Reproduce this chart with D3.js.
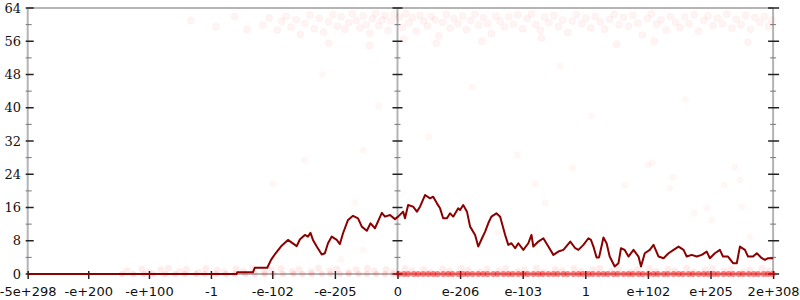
<!DOCTYPE html>
<html>
<head>
<meta charset="utf-8">
<script src="https://cdn.jsdelivr.net/npm/d3@7"></script>
<style>
  body { margin: 0; background: #fff; }
  svg { display: block; }
</style>
</head>
<body>
<div id="chart"></div>
<script>
// x positions are in "tick units" of the bit-pattern axis, 0 = the value 0
var xTickValues = [-5.907, -4.94, -3.97, -2.98, -2.0, -1.0, 0, 1, 2, 3, 4, 5, 6];
var xTickLabels = ["-5e+298", "-e+200", "-e+100", "-1", "-e-102", "-e-205", "0", "e-206", "e-103", "1", "e+102", "e+205", "2e+308"];
var yMajorTicks = [0, 8, 16, 24, 32, 40, 48, 56, 64];
var yMinorTicks = [4, 12, 20, 28, 36, 44, 52, 60];

// running line (dark red)
var lineData = [
  [-5.907, 0], [-2.57, 0], [-2.56, 0.4], [-2.31, 0.4], [-2.28, 1.5], [-2.08, 1.5],
  [-2.02, 3.4], [-1.96, 4.7], [-1.85, 6.8], [-1.75, 8.2], [-1.61, 6.7], [-1.56, 8.3],
  [-1.48, 9.4], [-1.43, 9.0], [-1.39, 9.9], [-1.35, 8.2], [-1.29, 6.6], [-1.21, 4.7],
  [-1.16, 5.0], [-1.11, 7.4], [-1.05, 9.0], [-0.97, 8.2], [-0.92, 7.2], [-0.87, 9.8],
  [-0.79, 13.0], [-0.71, 14.0], [-0.63, 13.4], [-0.57, 11.4], [-0.49, 10.4], [-0.43, 12.2],
  [-0.36, 11.0], [-0.25, 14.7], [-0.2, 13.8], [-0.12, 14.2], [-0.04, 13.2], [0.01, 13.8],
  [0.09, 15.0], [0.12, 13.4], [0.17, 16.6], [0.25, 16.2], [0.31, 15.0], [0.36, 16.2],
  [0.44, 19.0], [0.52, 18.2], [0.57, 18.6], [0.63, 17.0], [0.68, 15.8], [0.73, 13.4],
  [0.79, 13.4], [0.84, 14.6], [0.89, 13.8], [0.97, 15.8], [1.0, 15.4], [1.05, 16.6],
  [1.11, 15.0], [1.16, 11.4], [1.24, 9.4], [1.29, 6.6], [1.35, 8.6], [1.4, 10.2],
  [1.45, 12.2], [1.5, 13.8], [1.58, 14.6], [1.64, 13.8], [1.72, 9.4], [1.77, 7.0],
  [1.82, 7.4], [1.88, 6.2], [1.93, 7.4], [2.01, 5.8], [2.09, 7.4], [2.14, 9.4],
  [2.17, 6.6], [2.25, 7.8], [2.33, 8.6], [2.41, 6.6], [2.49, 4.6], [2.57, 5.4],
  [2.65, 5.8], [2.76, 7.8], [2.84, 6.2], [2.89, 5.8], [2.97, 7.0], [3.05, 8.6],
  [3.09, 8.2], [3.13, 6.6], [3.18, 4.0], [3.22, 4.0], [3.29, 8.8], [3.34, 7.4],
  [3.39, 4.2], [3.47, 1.8], [3.53, 2.6], [3.57, 6.2], [3.63, 5.8], [3.69, 4.2],
  [3.77, 5.8], [3.85, 4.2], [3.89, 1.8], [3.95, 5.0], [4.03, 5.8], [4.09, 7.0],
  [4.17, 4.2], [4.25, 3.8], [4.33, 5.0], [4.41, 5.8], [4.49, 6.6], [4.57, 5.8],
  [4.62, 4.2], [4.7, 4.6], [4.78, 4.2], [4.86, 4.6], [4.94, 5.4], [4.99, 3.8],
  [5.07, 5.0], [5.15, 5.8], [5.2, 4.2], [5.28, 4.2], [5.36, 2.6], [5.42, 2.6],
  [5.47, 6.6], [5.55, 5.8], [5.6, 4.2], [5.68, 4.2], [5.74, 5.0], [5.82, 3.8],
  [5.87, 3.4], [5.92, 3.8], [6.0, 3.8]
];

// faint samples near the top of the range
var topPoints = [
  [-3.3, 61.0], [-2.9, 59.5], [-2.6, 62.0], [-2.4, 58.8],
  [-2.15, 59.9], [-2.05, 61.6], [-1.92, 58.7], [-1.85, 60.8], [-1.78, 62.0], [-1.7, 59.4],
  [-1.62, 61.2], [-1.55, 57.6], [-1.48, 60.3], [-1.4, 62.3], [-1.33, 59.0], [-1.25, 61.5],
  [-1.18, 58.2], [-1.1, 60.7], [-1.03, 62.4], [-0.96, 59.6], [-0.9, 61.9], [-0.84, 58.9],
  [-0.78, 60.5], [-0.72, 62.6], [-0.66, 61.0], [-0.6, 59.2], [-0.55, 62.1], [-0.5, 60.0],
  [-0.44, 57.9], [-0.4, 61.4], [-0.35, 62.7], [-0.3, 59.7], [-0.25, 61.1], [-0.2, 62.2],
  [-0.15, 58.6], [-0.1, 60.9], [-0.05, 62.5], [0.03, 61.8], [0.08, 59.3], [0.13, 62.6],
  [0.18, 60.4], [0.24, 61.7], [0.3, 58.4], [0.36, 62.2], [0.42, 60.9], [0.48, 59.6],
  [0.54, 62.0], [0.6, 61.2], [0.66, 57.3], [0.72, 60.6], [0.78, 62.4], [0.84, 59.1],
  [0.9, 61.5], [0.97, 60.2], [1.04, 62.1], [1.1, 58.8], [1.17, 61.0], [1.24, 62.5],
  [1.3, 59.9], [1.37, 61.7], [1.44, 60.3], [1.5, 57.8], [1.57, 62.0], [1.64, 60.8],
  [1.71, 59.4], [1.78, 61.9], [1.85, 60.1], [1.92, 62.3], [2.0, 59.0], [2.07, 61.4],
  [2.14, 62.6], [2.21, 60.0], [2.28, 58.6], [2.35, 61.8], [2.42, 60.5], [2.5, 62.2],
  [2.57, 59.5], [2.64, 61.1], [2.72, 58.1], [2.79, 60.9], [2.86, 62.4], [2.94, 60.2],
  [3.01, 61.6], [3.09, 59.2], [3.16, 62.0], [3.24, 60.7], [3.31, 58.9], [3.39, 61.3],
  [3.46, 62.5], [3.54, 60.0], [3.61, 61.8], [3.69, 59.6], [3.76, 62.2], [3.84, 60.4],
  [3.91, 57.5], [3.99, 61.5], [4.06, 62.7], [4.14, 60.1], [4.21, 61.2], [4.29, 58.7],
  [4.36, 62.0], [4.44, 60.6], [4.51, 59.3], [4.59, 61.9], [4.66, 60.3], [4.74, 62.4],
  [4.81, 58.4], [4.89, 61.0], [4.96, 62.1], [5.04, 59.8], [5.11, 61.6], [5.19, 60.2],
  [5.26, 62.5], [5.34, 59.1], [5.41, 61.3], [5.49, 60.0], [5.56, 62.2], [5.64, 58.9],
  [5.71, 61.7], [5.79, 60.5], [5.86, 62.0], [5.93, 59.6], [5.98, 61.1],
  [-1.1, 55.5], [-0.45, 55.0], [0.1, 56.5], [0.62, 55.5], [1.35, 56.0], [2.3, 56.8],
  [3.5, 55.3], [4.1, 56.0], [5.6, 55.8]
];

// scattered samples in the middle of the range
var midPoints = [
  [-0.55, 29.8], [-1.48, 27.4], [-1.99, 21.7], [-0.68, 17.1], [-0.55, 5.8], [1.91, 28.6],
  [2.8, 25.5], [2.2, 21.7], [2.36, 17.1], [3.63, 21.4], [4.0, 26.2], [4.07, 26.7],
  [4.4, 23.3], [4.35, 20.7], [5.39, 25.7], [5.47, 22.6], [5.22, 21.4], [5.5, 16.1],
  [4.74, 14.7], [4.94, 15.9], [5.02, 13.0], [5.63, 8.9], [-0.3, 40.5], [1.2, 45.0],
  [3.1, 38.0], [-1.2, 48.0], [2.6, 50.0], [4.6, 42.0], [0.5, 33.0], [1.6, 10.0], [-0.9, 3.5]
];

// samples just above zero
var lowPoints = [
  [-4.32, 0.8], [-4.08, 1.2], [-3.97, 0.5], [-3.78, 1.0], [-3.66, 1.4], [-3.48, 0.6],
  [-3.37, 1.1], [-3.18, 0.4], [-3.06, 1.3], [-2.88, 0.9], [-2.77, 0.5], [-2.58, 1.2],
  [-2.46, 0.7], [-2.31, 1.4], [-2.13, 0.4], [-2.02, 1.0], [-1.86, 1.3], [-1.68, 0.6],
  [-1.57, 1.1], [-1.38, 0.5], [-1.26, 1.4], [-1.08, 0.8], [-0.97, 1.2], [-0.78, 0.4],
  [-0.66, 1.0], [-0.48, 1.3], [-0.37, 0.7], [-0.18, 1.1], [-0.06, 0.5], [0.12, 1.3],
  [0.23, 0.8], [0.42, 1.1], [0.53, 0.4], [0.72, 1.2], [0.83, 0.7], [1.02, 1.4],
  [1.13, 0.9], [1.32, 0.5], [1.43, 1.2], [1.62, 0.8], [1.73, 1.3], [1.92, 0.6],
  [2.03, 1.0], [2.22, 1.4], [2.33, 0.5], [2.52, 1.1], [2.63, 0.8], [2.82, 1.3],
  [2.93, 0.6], [3.12, 1.0], [3.23, 1.4], [3.42, 0.7], [3.53, 1.2], [3.72, 0.5],
  [3.83, 1.0], [4.02, 1.3], [4.13, 0.6], [4.32, 1.1], [4.43, 0.8], [4.62, 1.4],
  [4.73, 0.5], [4.92, 1.0], [5.03, 1.3], [5.22, 0.7], [5.33, 1.2], [5.52, 0.5],
  [5.63, 1.0], [5.82, 1.3], [5.93, 0.8]
];

// samples at exactly zero (x only)
var zeroX = [
  -4.4, -4.22, -4.05, -3.9, -3.71, -3.55, -3.4, -3.22, -3.08, -2.9, -2.74, -2.6, -2.43,
  -2.28, -2.12, -1.98, -1.83, -1.66, -1.52, -1.37, -1.21, -1.07, -0.92, -0.78, -0.62,
  -0.49, -0.34, -0.2, -0.07,
  0.02, 0.1, 0.17, 0.26, 0.33, 0.41, 0.49, 0.57, 0.64, 0.73, 0.81, 0.88, 0.97, 1.05,
  1.12, 1.2, 1.29, 1.37, 1.44, 1.53, 1.6, 1.69, 1.77, 1.84, 1.93, 2.01, 2.08, 2.17,
  2.25, 2.32, 2.41, 2.49, 2.56, 2.65, 2.72, 2.81, 2.89, 2.96, 3.05, 3.12, 3.21, 3.29,
  3.36, 3.45, 3.52, 3.61, 3.69, 3.76, 3.85, 3.92, 4.01, 4.09, 4.16, 4.25, 4.32, 4.41,
  4.49, 4.56, 4.65, 4.72, 4.81, 4.89, 4.96, 5.05, 5.12, 5.21, 5.29, 5.36, 5.45, 5.52,
  5.61, 5.69, 5.76, 5.85, 5.92, 5.99
];

var width = 800;
var height = 300;

var svg = d3.select("#chart")
  .append("svg")
  .attr("width", width)
  .attr("height", height);

var x = d3.scaleLinear().domain([-5.907, 6.0]).range([27.7, 773.1]);
var y = d3.scaleLinear().domain([0, 64]).range([274, 8]);

var axisColor = "#b4b4b4";

// top border
svg.append("line")
  .attr("x1", x(-5.907)).attr("x2", x(6.0))
  .attr("y1", y(64)).attr("y2", y(64))
  .attr("stroke", axisColor).attr("stroke-width", 2);

// bottom baseline
svg.append("line")
  .attr("x1", x(-5.907)).attr("x2", x(6.0))
  .attr("y1", y(0)).attr("y2", y(0))
  .attr("stroke", axisColor).attr("stroke-width", 2);

// vertical axes: left, middle (at 0), right
var vAxes = [
  { pos: -5.907, majL: -2, majR: 6, minL: -2, minR: 4 },
  { pos: 0, majL: -5, majR: 5, minL: -3, minR: 3 },
  { pos: 6.0, majL: -5, majR: 6, minL: -3, minR: 3 }
];

vAxes.forEach(function (a) {
  var g = svg.append("g");
  var cx = x(a.pos);
  g.append("line")
    .attr("x1", cx).attr("x2", cx)
    .attr("y1", y(0)).attr("y2", y(64))
    .attr("stroke", axisColor).attr("stroke-width", 2);
  g.selectAll(".minor")
    .data(yMinorTicks)
    .enter()
    .append("line")
    .attr("x1", cx + a.minL).attr("x2", cx + a.minR)
    .attr("y1", function (d) { return y(d); })
    .attr("y2", function (d) { return y(d); })
    .attr("stroke", "#777").attr("stroke-width", 1);
  g.selectAll(".major")
    .data(yMajorTicks)
    .enter()
    .append("line")
    .attr("x1", cx + a.majL).attr("x2", cx + a.majR)
    .attr("y1", function (d) { return y(d); })
    .attr("y2", function (d) { return y(d); })
    .attr("stroke", "#222").attr("stroke-width", 1.5);
});

// y labels on the left axis
svg.append("g")
  .selectAll("text")
  .data(yMajorTicks)
  .enter()
  .append("text")
  .attr("x", 21)
  .attr("y", function (d) { return y(d); })
  .attr("dy", "0.36em")
  .attr("text-anchor", "end")
  .style("font-family", "DejaVu Serif")
  .style("font-size", "13px")
  .attr("fill", "#111")
  .text(function (d) { return d; });

// x axis
var xAxis = d3.axisBottom(x)
  .tickValues(xTickValues)
  .tickFormat(function (d, i) { return xTickLabels[i]; })
  .tickSizeInner(5)
  .tickSizeOuter(0)
  .tickPadding(8);

var gx = svg.append("g")
  .attr("transform", "translate(0," + y(0) + ")")
  .call(xAxis);
gx.select(".domain").remove();
gx.selectAll(".tick line").attr("y1", -3).attr("stroke", "#222").attr("stroke-width", 1.5);
gx.selectAll(".tick text")
  .style("font-family", "DejaVu Sans")
  .style("font-size", "13px")
  .attr("fill", "#111");

// scatter of samples
var dots = svg.append("g");

dots.selectAll(".top")
  .data(topPoints)
  .enter()
  .append("circle")
  .attr("cx", function (d) { return x(d[0]); })
  .attr("cy", function (d) { return y(d[1]); })
  .attr("r", 3.5)
  .attr("fill", "red").attr("fill-opacity", 0.045)
  .attr("stroke", "red").attr("stroke-opacity", 0.035);

dots.selectAll(".mid")
  .data(midPoints)
  .enter()
  .append("circle")
  .attr("cx", function (d) { return x(d[0]); })
  .attr("cy", function (d) { return y(d[1]); })
  .attr("r", 3.5)
  .attr("fill", "red").attr("fill-opacity", 0.035);

dots.selectAll(".low")
  .data(lowPoints)
  .enter()
  .append("circle")
  .attr("cx", function (d) { return x(d[0]); })
  .attr("cy", function (d) { return y(d[1]); })
  .attr("r", 3.5)
  .attr("fill", "red").attr("fill-opacity", 0.07);

dots.selectAll(".zero")
  .data(zeroX)
  .enter()
  .append("circle")
  .attr("cx", function (d) { return x(d); })
  .attr("cy", y(0))
  .attr("r", 3)
  .attr("fill", "red").attr("fill-opacity", function (d) { return d < 0 ? 0.12 : 0.5; });

// the running line
var line = d3.line()
  .x(function (d) { return x(d[0]); })
  .y(function (d) { return y(d[1]); });

svg.append("path")
  .datum(lineData)
  .attr("d", line)
  .attr("fill", "none")
  .attr("stroke", "#8b0000")
  .attr("stroke-width", 2)
  .attr("stroke-linejoin", "round");
</script>
</body>
</html>
